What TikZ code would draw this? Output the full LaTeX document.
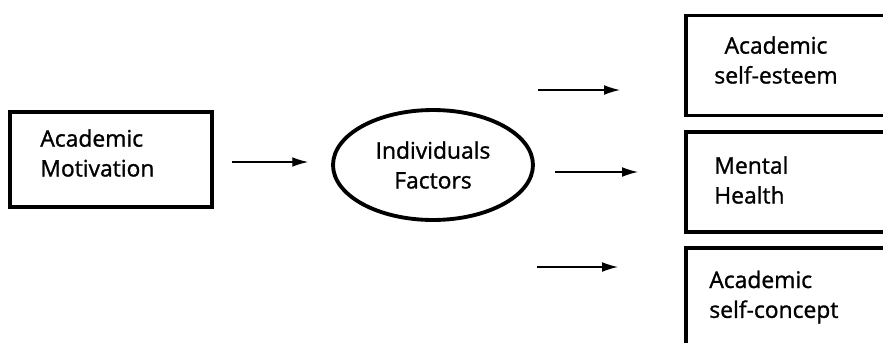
\documentclass[tikz,border=0pt]{standalone}
\usepackage{fontspec}
\setmainfont{Open Sans}[UprightFeatures={FakeBold=1.2}]
\usepackage{tikz}
\usetikzlibrary{arrows.meta, shapes, calc}
\tikzset{
	every node/.style={
		font=\fontsize{13}{17}\selectfont
	},
	box/.style={
		shape=rectangle,
		draw,
		line width=2.2pt,
		minimum height=2cm,
		minimum width=5.2cm,
	},
	txt/.style={
		align=left,
		anchor=west,
		inner sep=0pt
	},
	factor/.style={
		shape=ellipse,
		draw,
		line width=2.2pt,
		minimum width=4cm,
		minimum height=2.2cm,
		align=center
	},
	myarrow/.style={-{Latex[length=9pt,width=5.5pt]}, line width=0.7pt},
}

\begin{document}
\begin{tikzpicture}
	[x=0.02cm, y=-0.02cm]
	\clip (0,0) rectangle (883,342);
	
	\node[box, minimum width=4.04cm, minimum height=1.9cm] (motiv) at (111,159.5) {};
	\node[txt] (motivtxt) at (40,153) {Academic\\Motivation};
	
	\node[factor] (factors) at (433,165) {Individuals\\Factors};
	
	\node[box] (esteem) at (816,65.5) {};
	\node[txt, align=center, anchor=center] (esteemtxt) at (776,60) {Academic\\self-esteem};
	\node[box] (health) at (816,182) {};
	\node[txt] (healthtxt) at (714,180) {Mental\\Health};
	\node[box] (concept) at (816,298) {};
	\node[txt] (concepttxt) at (709,297) {Academic\\self-concept};
	
	\coordinate (a1) at (538,90);
	\coordinate (a2) at (620,90);
	\coordinate (b1) at (555,172);
	\coordinate (b2) at (638,172);
	\coordinate (c1) at (537,267);
	\coordinate (c2) at (618,267);
	
	\draw[myarrow, shorten <=0.36cm, shorten >=0.46cm] (motiv.east |- 0,162) -- (factors.west |- 0,162);
	\draw[myarrow] (a1) -- (a2);
	\draw[myarrow] (b1) -- (b2);
	\draw[myarrow] (c1) -- (c2);
\end{tikzpicture}
\end{document}
